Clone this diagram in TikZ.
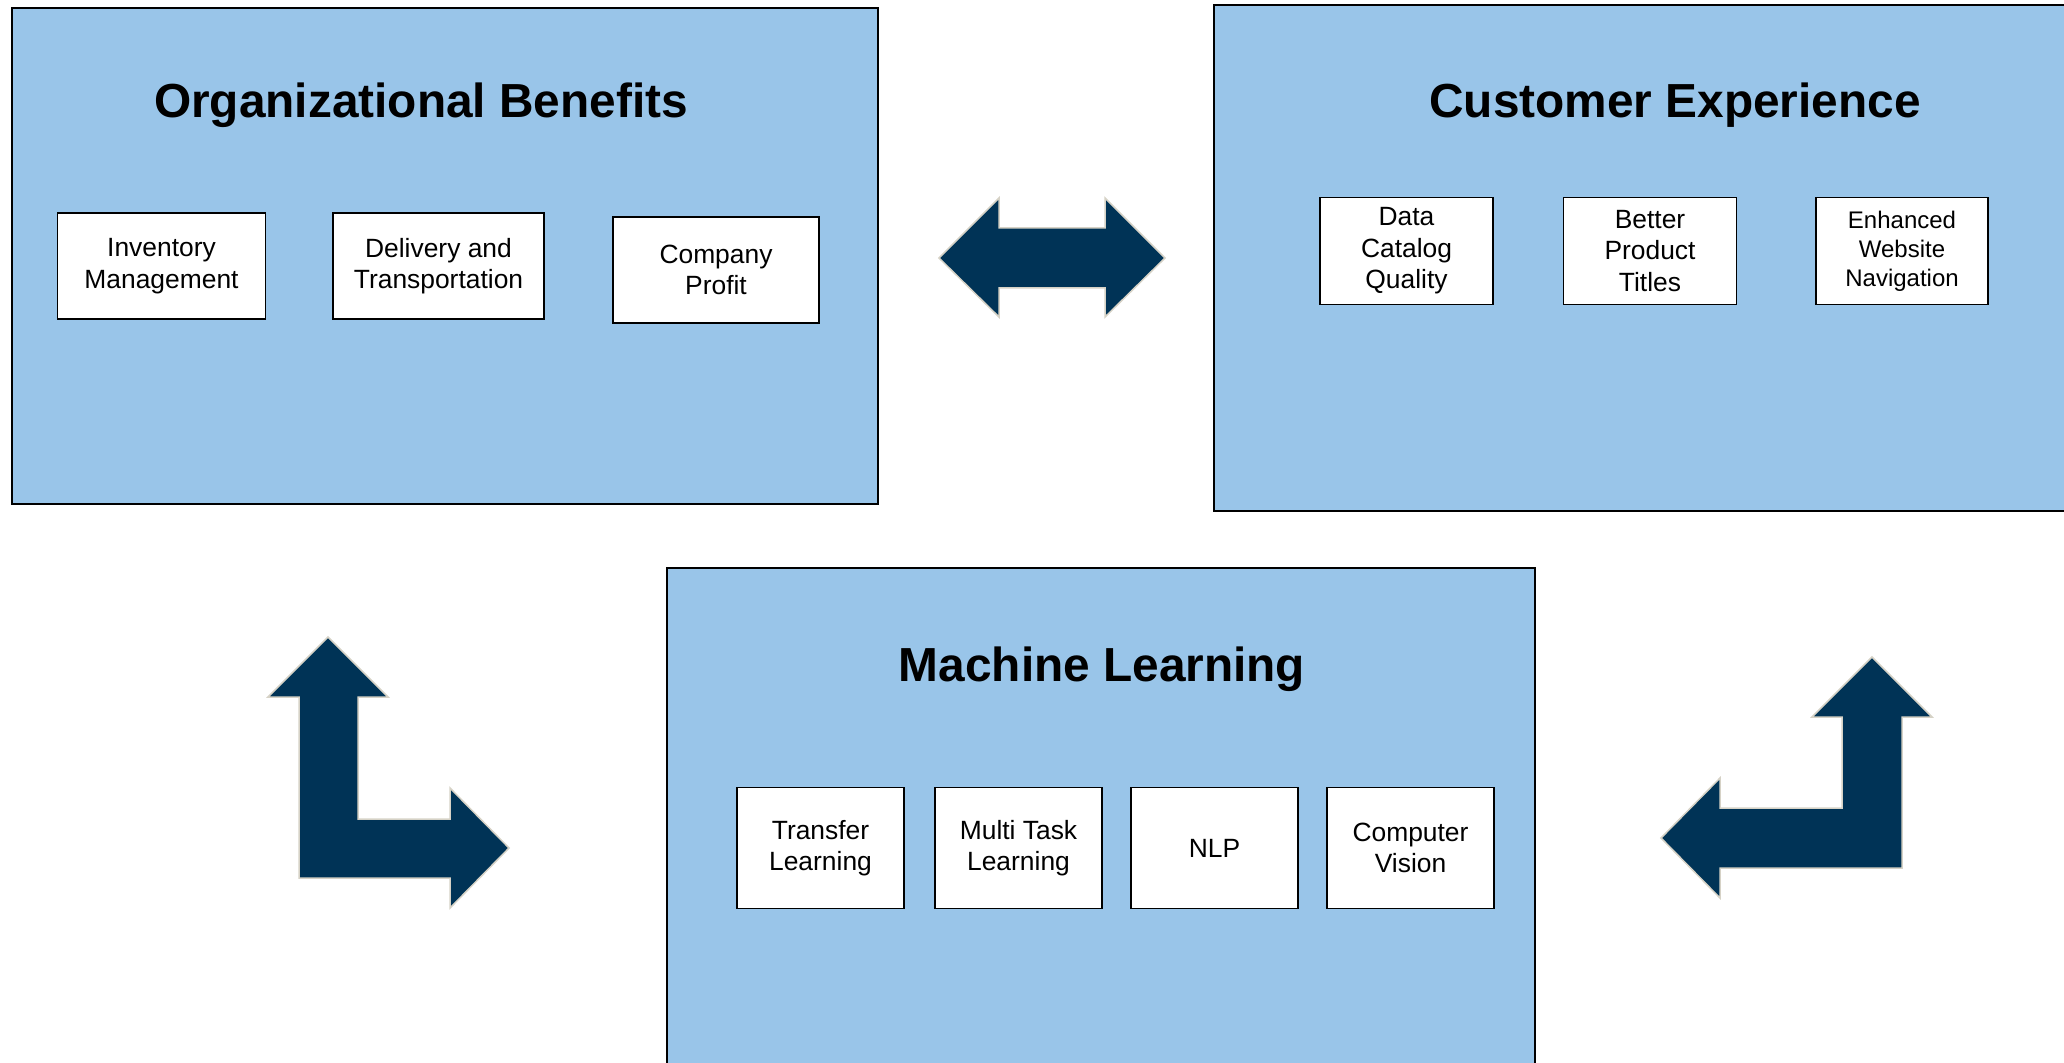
\documentclass[tikz,border=0pt]{standalone}
\usepackage{fontspec}
\setmainfont{Liberation Sans}
\definecolor{panelblue}{HTML}{99C5E9}
\definecolor{navy}{HTML}{003356}
\definecolor{rim}{HTML}{D6D2C6}
\tikzset{
  panel/.style={draw=black, line width=1pt, fill=panelblue},
  paneltitle/.style={anchor=base, font=\fontsize{23.9}{28}\selectfont\bfseries},
  subbox/.style={draw=black, line width=0.9pt, fill=white, align=center, inner sep=0pt,
    font=\fontsize{13.2}{15.8}\selectfont},
  blockarrow/.style={fill=navy, draw=rim, line width=0.75pt, line join=miter}
}
\begin{document}
\begin{tikzpicture}[x=0.5pt, y=-0.5pt]
  \useasboundingbox (0,0) rectangle (2064,1063);
  \clip (0,0) rectangle (2064,1063);

  % the three panels
  \draw[panel] (12,8) rectangle (878,504);
  \draw[panel] (1214,5) rectangle (2110,511);
  \draw[panel] (667,568) rectangle (1535,1110);

  \node[paneltitle] (orgtitle) at (421,118) {Organizational Benefits};
  \node[paneltitle] (cxtitle) at (1675,118) {Customer Experience};
  \node[paneltitle] (mltitle) at (1102,681) {Machine Learning};

  \foreach \n/\x/\y/\w/\t in {inv/161.5/266/104/{Inventory\\Management},
      deliv/438.5/266/105.5/{Delivery and\\Transportation},
      profit/716/270/103/{Company\\Profit}}
    \node[subbox, minimum width=\w pt, minimum height=53pt] (\n) at (\x,\y) {\t};

  \foreach \n/\x/\t in {catalog/1406.5/{Data\\Catalog\\Quality},
      titles/1650/{Better\\Product\\Titles}}
    \node[subbox, minimum width=86.5pt, minimum height=53.5pt] (\n) at (\x,251) {\t};
  \node[subbox, minimum width=86pt, minimum height=53.5pt,
    font=\fontsize{12}{14.5}\selectfont] (navig) at (1902,251) {Enhanced\\Website\\Navigation};

  \foreach \n/\x/\t in {transfer/820.5/{Transfer\\Learning}, multitask/1018.5/{Multi Task\\Learning},
      nlp/1214.5/NLP, vision/1410.5/{Computer\\Vision}}
    \node[subbox, minimum width=83.5pt, minimum height=60.5pt] (\n) at (\x,848) {\t};

  % block arrows
  \filldraw[blockarrow] (939,258) -- (999,198) -- (999,228) -- (1105,228) -- (1105,198)
    -- (1165,258) -- (1105,317) -- (1105,288) -- (999,288) -- (999,317) -- cycle;
  \filldraw[blockarrow] (328,637) -- (388,697) -- (358,697) -- (358,819) -- (450,819)
    -- (450,788) -- (509,848) -- (450,908) -- (450,878) -- (299,878) -- (299,697)
    -- (268,697) -- cycle;
  \filldraw[blockarrow] (1872,657) -- (1932,717) -- (1902,717) -- (1902,868) -- (1720,868)
    -- (1720,898) -- (1661,838) -- (1720,778) -- (1720,808) -- (1842,808) -- (1842,717)
    -- (1812,717) -- cycle;
\end{tikzpicture}
\end{document}
